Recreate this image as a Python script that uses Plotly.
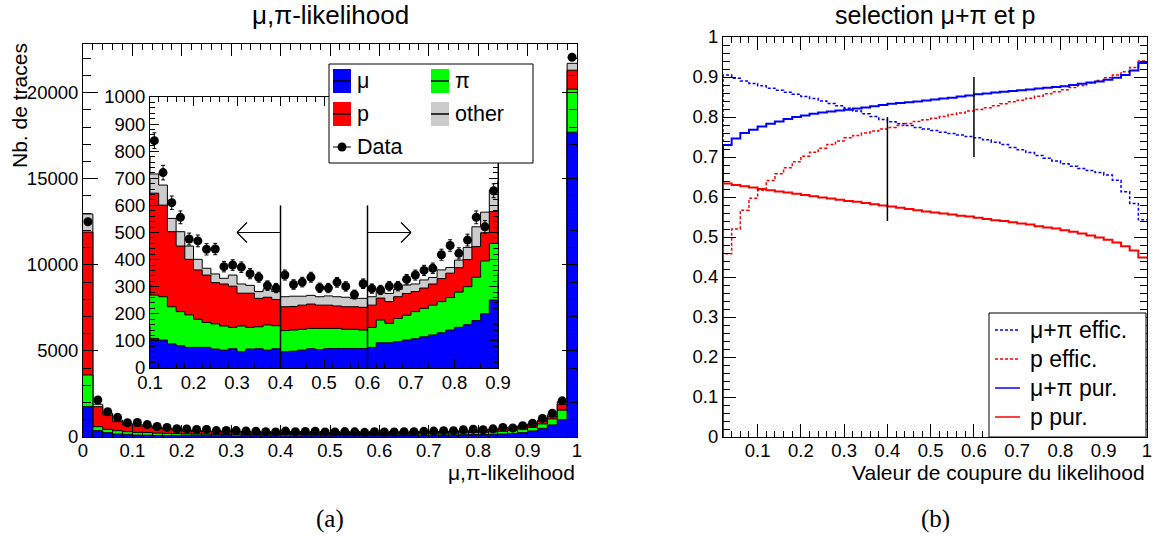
import numpy as np
import plotly.graph_objects as go

W, H = 1156, 538

# ---------------- data : mu,pi-likelihood distribution (50 bins of 0.02) ----------------
bin_edges = [round(0.02 * i, 2) for i in range(51)]
mu = [1760, 370, 250, 175, 155, 109, 103, 89, 82, 76,
      76, 76, 70, 66, 71, 60, 70, 71, 66, 71,
      60, 62, 66, 71, 68, 72, 72, 72, 72, 72,
      76, 93, 93, 97, 103, 108, 115, 122, 130, 140,
      150, 160, 175, 200, 251, 350, 500, 700, 1000, 17700]
pion = [1840, 230, 195, 192, 155, 160, 160, 137, 126, 120,
        104, 92, 93, 89, 79, 95, 80, 81, 93, 85,
        78, 78, 77, 75, 78, 74, 74, 71, 71, 68,
        74, 84, 72, 86, 92, 100, 105, 110, 115, 120,
        130, 140, 160, 195, 209, 210, 260, 350, 560, 2500]
proton = [8300, 1160, 830, 523, 390, 376, 338, 277, 242, 205,
          182, 175, 152, 155, 152, 121, 126, 105, 102, 97,
          88, 87, 89, 90, 86, 86, 83, 83, 83, 84,
          82, 81, 80, 80, 80, 74, 75, 78, 85, 90,
          90, 100, 113, 104, 117, 130, 140, 150, 340, 1100]
other = [1050, 140, 105, 90, 80, 71, 74, 49, 53, 49,
         39, 25, 32, 21, 41, 34, 29, 25, 31, 29,
         37, 38, 33, 32, 31, 34, 34, 35, 31, 33,
         31, 24, 30, 27, 31, 28, 30, 24, 32, 21,
         28, 45, 73, 76, 78, 70, 80, 90, 150, 400]
data = [12500, 2150, 1470, 1140, 830, 839, 721, 610, 556, 476,
        469, 438, 439, 374, 380, 372, 348, 335, 304, 295,
        343, 308, 317, 335, 296, 295, 316, 301, 271, 311,
        293, 288, 302, 302, 327, 343, 360, 368, 418, 452,
        423, 472, 556, 521, 654, 800, 1080, 1380, 2100, 22050]

# ---------------- data : efficiency / purity vs likelihood cut ----------------
cut_edges = [round(0.02 * i, 2) for i in range(1, 51)]
eff_mupi = [0.905, 0.897, 0.890, 0.884, 0.878, 0.872, 0.867, 0.862, 0.857, 0.851,
            0.846, 0.840, 0.834, 0.828, 0.822, 0.815, 0.808, 0.801, 0.794, 0.788,
            0.783, 0.779, 0.774, 0.770, 0.766, 0.762, 0.759, 0.755, 0.751, 0.748,
            0.743, 0.737, 0.731, 0.724, 0.718, 0.711, 0.704, 0.697, 0.690, 0.683,
            0.677, 0.671, 0.666, 0.661, 0.655, 0.642, 0.613, 0.584, 0.543]
eff_p = [0.458, 0.520, 0.567, 0.597, 0.617, 0.641, 0.658, 0.673, 0.688, 0.702,
         0.712, 0.722, 0.731, 0.740, 0.748, 0.754, 0.760, 0.765, 0.770, 0.774,
         0.779, 0.784, 0.789, 0.793, 0.797, 0.801, 0.806, 0.810, 0.815, 0.819,
         0.823, 0.828, 0.833, 0.838, 0.842, 0.847, 0.852, 0.858, 0.863, 0.868,
         0.874, 0.879, 0.885, 0.891, 0.898, 0.905, 0.913, 0.924, 0.940]
pur_mupi = [0.730, 0.746, 0.760, 0.768, 0.776, 0.783, 0.789, 0.795, 0.800, 0.804,
            0.808, 0.811, 0.814, 0.816, 0.818, 0.821, 0.824, 0.827, 0.830, 0.833,
            0.835, 0.837, 0.839, 0.841, 0.844, 0.846, 0.848, 0.851, 0.854, 0.857,
            0.859, 0.861, 0.863, 0.865, 0.867, 0.869, 0.871, 0.873, 0.875, 0.877,
            0.880, 0.883, 0.886, 0.889, 0.893, 0.898, 0.905, 0.916, 0.935]
pur_p = [0.634, 0.630, 0.627, 0.624, 0.620, 0.617, 0.614, 0.611, 0.608, 0.605,
         0.602, 0.599, 0.596, 0.593, 0.590, 0.588, 0.585, 0.582, 0.579, 0.576,
         0.573, 0.570, 0.567, 0.564, 0.561, 0.559, 0.556, 0.553, 0.551, 0.548,
         0.545, 0.542, 0.540, 0.537, 0.534, 0.531, 0.527, 0.524, 0.521, 0.517,
         0.513, 0.509, 0.504, 0.499, 0.493, 0.486, 0.477, 0.466, 0.449]

# selection cut markers
cuts = [0.4, 0.6]
cut_lines_right = [(0.54, 0.80), (0.70, 0.90)]

FONT = "Liberation Sans"
BLUE, GREEN, RED, GREY = "#0000ff", "#00ff00", "#ff0000", "#cccccc"


def px(x):
    return x / W


def py(y):
    return 1 - y / H


def step_xy(edges, vals, from_zero=False):
    x = list(edges)
    y = list(vals) + [vals[-1]]
    if from_zero:
        x = [edges[0]] + x
        y = [0] + y
    return x, y


fig = go.Figure()

cum1 = np.array(mu, float)
cum2 = cum1 + np.array(pion)
cum3 = cum2 + np.array(proton)
cum4 = cum3 + np.array(other)
centers = [(bin_edges[i] + bin_edges[i + 1]) / 2 for i in range(50)]
errs = np.sqrt(np.array(data, float))

for xa, ya in [("x", "y"), ("x2", "y2")]:
    for cum, col in [(cum4, GREY), (cum3, RED), (cum2, GREEN), (cum1, BLUE)]:
        sx, sy = step_xy(bin_edges, list(cum))
        fig.add_trace(go.Scatter(x=sx, y=sy, mode="lines", line=dict(color="black", width=1, shape="hv"),
                                 fill="tozeroy", fillcolor=col, showlegend=False, hoverinfo="skip",
                                 xaxis=xa, yaxis=ya))
    fig.add_trace(go.Scatter(x=centers, y=data, mode="markers",
                             marker=dict(color="black", size=9, symbol="circle"),
                             error_y=dict(type="data", array=list(errs), color="black", thickness=1, width=2),
                             showlegend=False, xaxis=xa, yaxis=ya))

for vals, col, dash, wdt in [(eff_mupi, BLUE, "3px,2px", 1.5), (eff_p, RED, "3px,2px", 1.5),
                             (pur_mupi, BLUE, "solid", 2), (pur_p, RED, "solid", 2)]:
    sx, sy = step_xy(cut_edges, vals, from_zero=True)
    fig.add_trace(go.Scatter(x=sx, y=sy, mode="lines", line=dict(color=col, width=wdt, dash=dash, shape="hv"),
                             showlegend=False, hoverinfo="skip", xaxis="x3", yaxis="y3"))


def axis(domain, rng, dtick, mdtick, tlen, mlen, anchor, fmt=None, tick0=0, standoff=0):
    d = dict(domain=domain, range=rng, anchor=anchor, showline=True, linecolor="black", linewidth=1,
             mirror="ticks", ticks="inside", ticklen=tlen, tickwidth=1, tickcolor="black",
             dtick=dtick, tick0=tick0, showgrid=False, zeroline=False, automargin=False,
             ticklabelstandoff=standoff,
             tickfont=dict(family=FONT, size=18.5, color="black"),
             minor=dict(ticks="inside", ticklen=mlen, dtick=mdtick, tick0=tick0, tickcolor="black",
                        tickwidth=1, showgrid=False))
    if fmt:
        d["tickformat"] = fmt
    return d


fig.update_layout(
    width=W, height=H, margin=dict(l=0, r=0, t=0, b=0, pad=0, autoexpand=False),
    paper_bgcolor="white", plot_bgcolor="white", showlegend=False,
    font=dict(family=FONT, color="black"),
    xaxis=axis([px(83), px(577)], [0, 1], 0.1, 0.02, 12, 6, "y", standoff=-3),
    yaxis=axis([py(437), py(43.5)], [0, 22850], 5000, 1000, 15, 8, "x", fmt="d"),
    xaxis2=axis([px(150), px(498)], [0.1, 0.9], 0.1, 0.02, 9, 5, "y2", standoff=-2),
    yaxis2=axis([py(368), py(97)], [0, 1000], 100, 20, 9, 5, "x2", fmt="d"),
    xaxis3=axis([px(723), px(1147)], [0.02, 1], 0.1, 0.02, 13, 6, "y3", standoff=-3),
    yaxis3=axis([py(437), py(37)], [0, 1], 0.1, 0.02, 13, 7, "x3"),
)

shapes = []
# inset cut lines and arrows
for c, direction in zip(cuts, [-1, 1]):
    shapes.append(dict(type="line", xref="x2", yref="y2", x0=c, x1=c, y0=0, y1=600,
                       line=dict(color="black", width=1.5), layer="above"))
    tip = c + direction * 0.1
    shapes.append(dict(type="line", xref="x2", yref="y2", x0=c, x1=tip, y0=500, y1=500,
                       line=dict(color="black", width=1.2), layer="above"))
    for s in (1, -1):
        shapes.append(dict(type="line", xref="x2", yref="y2", xsizemode="pixel", ysizemode="pixel",
                           xanchor=tip, yanchor=500, x0=0, x1=-direction * 10, y0=0, y1=s * 10,
                           line=dict(color="black", width=1.2), layer="above"))
# right panel cut lines
for c, (y0, y1) in zip(cuts, cut_lines_right):
    shapes.append(dict(type="line", xref="x3", yref="y3", x0=c, x1=c, y0=y0, y1=y1,
                       line=dict(color="black", width=1.5), layer="above"))


def prect(x0, y0, x1, y1, fill, lw=1, lc="black"):
    return dict(type="rect", xref="paper", yref="paper", x0=px(x0), x1=px(x1), y0=py(y1), y1=py(y0),
                fillcolor=fill, line=dict(color=lc, width=lw), layer="above")


def pline(x0, y0, x1, y1, col="black", w=1.5, dash="solid"):
    return dict(type="line", xref="paper", yref="paper", x0=px(x0), x1=px(x1), y0=py(y0), y1=py(y1),
                line=dict(color=col, width=w, dash=dash), layer="above")


ann = []


def text(x, y, s, size, xanchor="left", yanchor="middle", angle=0, family=FONT):
    ann.append(dict(x=px(x), y=py(y), xref="paper", yref="paper", text=s, showarrow=False,
                    xanchor=xanchor, yanchor=yanchor, textangle=angle,
                    font=dict(family=family, size=size, color="black")))


# left legend
shapes.append(prect(329, 64, 533, 163, "white"))
leg_left = [("\u03bc", BLUE, 333, 81), ("\u03c0", GREEN, 431, 81), ("p", RED, 333, 114), ("other", GREY, 431, 114)]
for lab, col, x0, yc in leg_left:
    shapes.append(prect(x0, yc - 12, x0 + 18, yc + 12, col, lw=0, lc=col))
    shapes.append(pline(x0, yc, x0 + 18, yc, "black", 1.5))
    text(x0 + 22, yc, lab, 21.5)
shapes.append(pline(333, 147, 351, 147, "black", 1))
shapes.append(dict(type="circle", xref="paper", yref="paper", x0=px(337.5), x1=px(346.5), y0=py(151.5),
                   y1=py(142.5), fillcolor="black", line=dict(color="black", width=0), layer="above"))
text(355, 147, "Data", 21.5)

# right legend
shapes.append(prect(989, 313, 1146, 437, "white"))
leg_right = [("\u03bc+\u03c0 effic.", BLUE, "3px,2px", 330), ("p effic.", RED, "3px,2px", 359),
             ("\u03bc+\u03c0 pur.", BLUE, "solid", 388), ("p pur.", RED, "solid", 417)]
for lab, col, dash, yc in leg_right:
    shapes.append(pline(995, yc, 1020, yc, col, 1.5, dash))
    text(1028, yc, lab, 23)

# titles and axis titles
text(330, 15, "\u03bc,\u03c0-likelihood", 26, xanchor="center")
text(935, 15, "selection \u03bc+\u03c0 et p", 25, xanchor="center")
text(577, 472, "\u03bc,\u03c0-likelihood", 21, xanchor="right")
text(1147, 472, "Valeur de coupure du likelihood", 21, xanchor="right")
text(20, 106, "Nb. de traces", 21, xanchor="center", angle=-90)
text(330, 519, "(a)", 25, xanchor="center", family="Liberation Serif")
text(935, 519, "(b)", 25, xanchor="center", family="Liberation Serif")

fig.update_layout(shapes=shapes, annotations=ann)
fig.write_html("out.html", config={"displayModeBar": False},
               post_script="document.body.style.margin='0';")
